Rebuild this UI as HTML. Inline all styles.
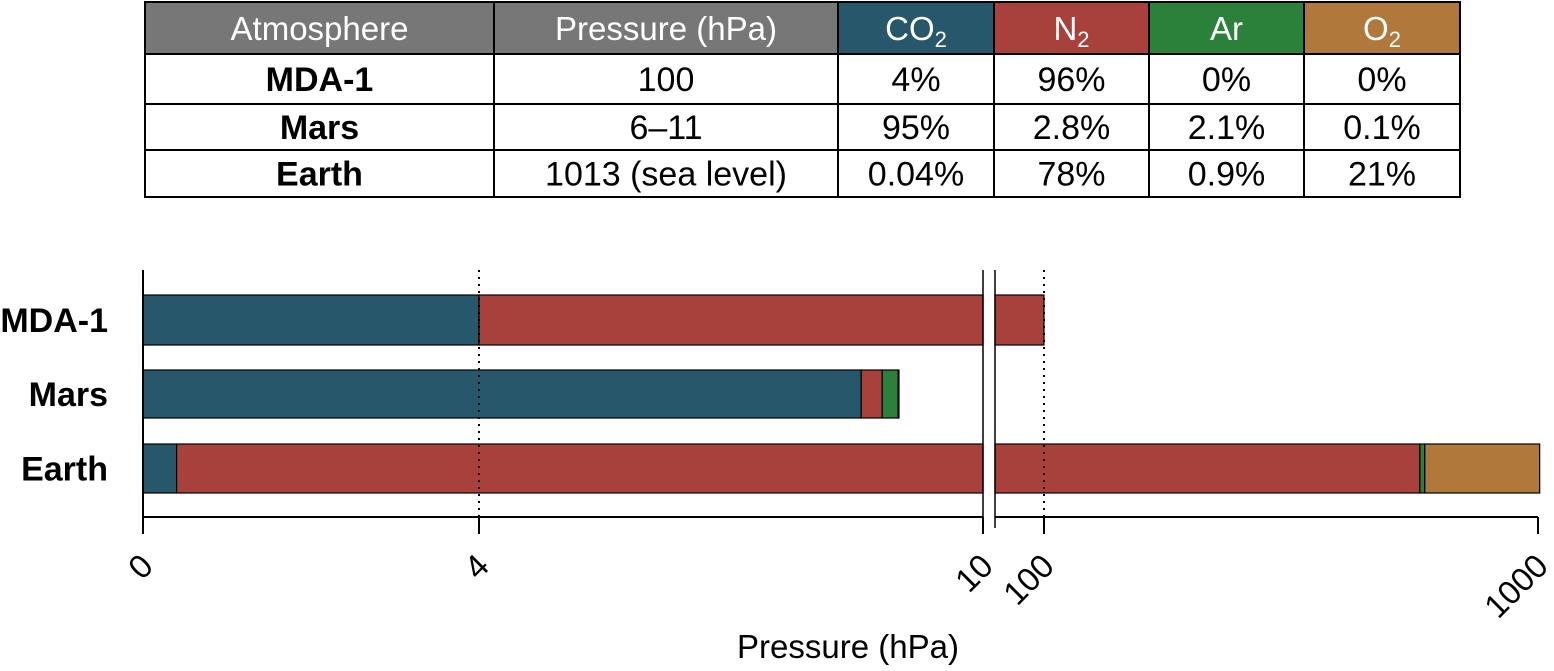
<!DOCTYPE html>
<html><head><meta charset="utf-8"><style>
body{margin:0;background:#fff;width:1554px;height:666px;overflow:hidden;font-family:"Liberation Sans",sans-serif}
</style></head><body>
<svg width="1554" height="666" viewBox="0 0 1554 666" font-family="Liberation Sans, sans-serif">
<g id="table"></g>
<g id="chart"></g>
</svg>
<script>
const atmospheres = ["MDA-1","Mars","Earth"];
const pressures = ["100","6–11","1013 (sea level)"];
const co2Pct = ["4%","95%","0.04%"];
const n2Pct = ["96%","2.8%","78%"];
const arPct = ["0%","2.1%","0.9%"];
const o2Pct = ["0%","0.1%","21%"];
// bar segment values in hPa
const co2Val = [4, 8.55, 0.4];
const n2Val = [96, 0.25, 790];
const arVal = [0, 0.19, 9];
const o2Val = [0, 0.01, 211];
const tickVals = [0, 4, 10, 100, 1000];
const tickLabels = ["0","4","10","100","1000"];
const dottedVals = [4, 100];

const NS="http://www.w3.org/2000/svg";
function mk(parent,tag,attrs,text){const e=document.createElementNS(NS,tag);for(const k in attrs)e.setAttribute(k,attrs[k]);if(text!==undefined)e.textContent=text;parent.appendChild(e);return e;}

const T=document.getElementById('table');
const colX=[145,494,838,994,1149,1304,1460];
const rowY=[2,54,104,150,197];
const hdrFill=["#777777","#777777","#27576b","#a8403c","#2b8139","#b0783a"];
const hdr=["Atmosphere","Pressure (hPa)","CO","N","Ar","O"];
const sub=["","","2","2","","2"];
for(let c=0;c<6;c++){
  const r=mk(T,'rect',{x:colX[c],y:rowY[0],width:colX[c+1]-colX[c],height:rowY[1]-rowY[0],fill:hdrFill[c],stroke:"#000","stroke-width":2});
  
  
  const t=mk(T,'text',{x:(colX[c]+colX[c+1])/2,y:40,"text-anchor":"middle","font-size":33,fill:"#fff"},hdr[c]);
  
  
  if(sub[c]){mk(t,'tspan',{"font-size":22,dy:7},sub[c]);}
}
const cols=[atmospheres,pressures,co2Pct,n2Pct,arPct,o2Pct];
for(let r=0;r<3;r++){
  for(let c=0;c<6;c++){
    const rc=mk(T,'rect',{x:colX[c],y:rowY[r+1],width:colX[c+1]-colX[c],height:rowY[r+2]-rowY[r+1],fill:"#fff",stroke:"#000","stroke-width":2});
    
    
    const t=mk(T,'text',{x:(colX[c]+colX[c+1])/2,y:(rowY[r+1]+rowY[r+2])/2+12,"text-anchor":"middle","font-size":34,"font-weight":c==0?"bold":"normal",fill:"#000"},cols[c][r]);
    
    
  }
}

const G=document.getElementById('chart');
const L0=143,L1=983,R0=995,R1=1538;
function xs(v){ if(v<=10) return L0+(L1-L0)*v/10; return R0+(v-10)*(1044-R0)/90; }
const barY=[295,370,444], barH=[50,48,49];
const colors=["#27576b","#a8403c","#2b8139","#b0783a"];
const series=[co2Val,n2Val,arVal,o2Val];
const names=["co2","n2","ar","o2"];
for(let i=0;i<3;i++){
  let cum=0;
  for(let s=0;s<4;s++){
    const v=series[s][i]; if(v<=0) continue;
    const a=cum,b=cum+v; cum=b;
    const segs=[];
    if(a<10) segs.push([xs(a),Math.min(xs(Math.min(b,10)),L1)]);
    if(b>10) segs.push([Math.max(xs(Math.max(a,10)),R0),xs(b)]);
    for(const [x0,x1] of segs){
      const r=mk(G,'rect',{x:x0,y:barY[i],width:Math.max(x1-x0,0.5),height:barH[i],fill:colors[s],stroke:"#000","stroke-width":1.2});
      
      
    }
  }
  const lb=mk(G,'text',{x:108,y:barY[i]+barH[i]/2+12,"text-anchor":"end","font-size":34,"font-weight":"bold"},atmospheres[i]);
  
  
}
for(const v of dottedVals){
  const l=mk(G,'line',{x1:xs(v),y1:270,x2:xs(v),y2:516,stroke:"#000","stroke-width":2,"stroke-dasharray":"2,5"});
  
  
}
const ya=mk(G,'line',{x1:L0,y1:270,x2:L0,y2:517,stroke:"#000","stroke-width":2});


for(const bx of [L1,R0]){
  const b=mk(G,'line',{x1:bx,y1:270,x2:bx,y2:528,stroke:"#000","stroke-width":1.5});
  
  
}
const xa1=mk(G,'line',{x1:L0,y1:517,x2:L1,y2:517,stroke:"#000","stroke-width":2});


const xa2=mk(G,'line',{x1:R0,y1:517,x2:R1,y2:517,stroke:"#000","stroke-width":2});


for(let k=0;k<tickVals.length;k++){
  const v=tickVals[k]; let x=xs(v); if(v==10)x=L1; if(v==1000)x=R1;
  const t=mk(G,'line',{x1:x,y1:517,x2:x,y2:534,stroke:"#000","stroke-width":2});
  
  
  const tx=x+12, ty=568;
  const lab=mk(G,'text',{x:tx,y:ty,"text-anchor":"end","font-size":33,transform:`rotate(-45 ${tx} ${ty})`},tickLabels[k]);
  
  
}
const xt=mk(G,'text',{x:848,y:658,"text-anchor":"middle","font-size":33},"Pressure (hPa)");


</script>
</body></html>
